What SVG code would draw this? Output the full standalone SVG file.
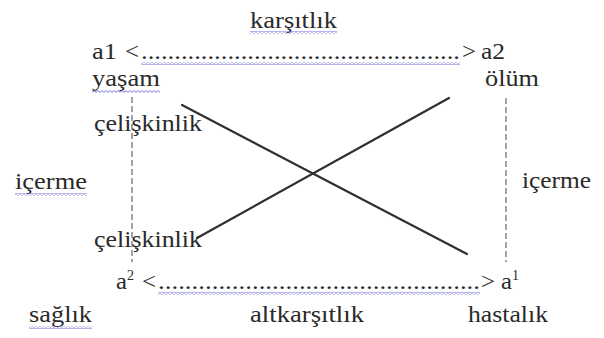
<svg xmlns="http://www.w3.org/2000/svg" width="604" height="338" viewBox="0 0 604 338">
<style>
  .t { font-size: 23px; fill: #2a2a2a; }
  .sup { font-size: 14px; }
  .cross { stroke: #2f2f2f; stroke-width: 2.2; fill: none; stroke-linecap: round; }
  .dash { stroke: #666; stroke-width: 1.2; stroke-dasharray: 6 3; fill: none; }
  .wavy { fill: url(#wavy); }
</style>
<defs>
  <pattern id="wavy" patternUnits="userSpaceOnUse" width="4" height="3">
    <path d="M0,2.4 L2,0.6 L4,2.4" stroke="#6a6ad8" stroke-width="0.9" fill="none"/>
  </pattern>
</defs>
<rect width="604" height="338" fill="#fff"/>

<g id="connectors">
  <line class="cross" x1="182" y1="105" x2="467" y2="254"/>
  <line class="cross" x1="449" y1="98" x2="197" y2="238"/>
  <line class="dash" x1="132" y1="97" x2="132" y2="262"/>
  <line class="dash" x1="506" y1="98" x2="506" y2="262"/>
</g>

<g font-family="'Liberation Serif', 'Times New Roman', 'DejaVu Serif', serif">
<g id="karsitlik">
  <text class="t" x="250" y="28" textLength="87" lengthAdjust="spacingAndGlyphs">karşıtlık</text>
  <rect class="wavy" x="250" y="31" width="87" height="3"/>
</g>

<g id="a1-a2">
  <text class="t" y="59"><tspan x="92" textLength="25" lengthAdjust="spacingAndGlyphs">a1</tspan><tspan x="125" textLength="14" lengthAdjust="spacingAndGlyphs">&lt;</tspan><tspan x="141" textLength="319" lengthAdjust="spacingAndGlyphs">................................................</tspan><tspan x="462" textLength="14" lengthAdjust="spacingAndGlyphs">&gt;</tspan><tspan x="481" textLength="24" lengthAdjust="spacingAndGlyphs">a2</tspan></text>
  <rect class="wavy" x="141" y="62" width="319" height="3"/>
</g>

<g id="yasam">
  <text class="t" x="92" y="86" textLength="68" lengthAdjust="spacingAndGlyphs">yaşam</text>
  <rect class="wavy" x="92" y="90" width="68" height="3"/>
</g>

<g id="olum">
  <text class="t" x="485" y="86" textLength="54" lengthAdjust="spacingAndGlyphs">ölüm</text>
</g>

<g id="celiskinlik-top">
  <text class="t" x="94" y="131" textLength="108" lengthAdjust="spacingAndGlyphs">çelişkinlik</text>
</g>

<g id="icerme-left">
  <text class="t" x="15" y="189" textLength="72" lengthAdjust="spacingAndGlyphs">içerme</text>
  <rect class="wavy" x="15" y="193" width="72" height="3"/>
</g>

<g id="icerme-right">
  <text class="t" x="522" y="188" textLength="69" lengthAdjust="spacingAndGlyphs">içerme</text>
</g>

<g id="celiskinlik-bottom">
  <text class="t" x="94" y="247" textLength="108" lengthAdjust="spacingAndGlyphs">çelişkinlik</text>
</g>

<g id="a2-a1">
  <text class="t" y="289"><tspan x="116" textLength="11" lengthAdjust="spacingAndGlyphs">a</tspan><tspan class="sup" x="127" y="280">2</tspan><tspan x="142" y="289" textLength="14" lengthAdjust="spacingAndGlyphs">&lt;</tspan><tspan x="158" textLength="322" lengthAdjust="spacingAndGlyphs">................................................</tspan><tspan x="481" textLength="14" lengthAdjust="spacingAndGlyphs">&gt;</tspan><tspan x="501" textLength="11" lengthAdjust="spacingAndGlyphs">a</tspan><tspan class="sup" x="512" y="280">1</tspan></text>
  <rect class="wavy" x="158" y="292" width="322" height="3"/>
</g>

<g id="saglik">
  <text class="t" x="29" y="322" textLength="63" lengthAdjust="spacingAndGlyphs">sağlık</text>
  <rect class="wavy" x="29" y="326" width="63" height="3"/>
</g>

<g id="altkarsitlik">
  <text class="t" x="250" y="322" textLength="114" lengthAdjust="spacingAndGlyphs">altkarşıtlık</text>
</g>

<g id="hastalik">
  <text class="t" x="468" y="322" textLength="80" lengthAdjust="spacingAndGlyphs">hastalık</text>
</g>
</g>
</svg>
